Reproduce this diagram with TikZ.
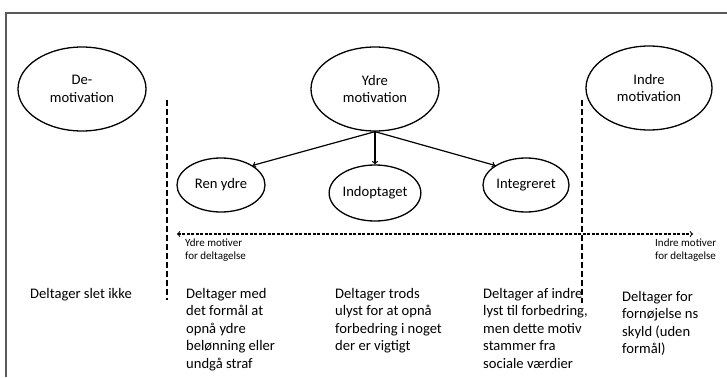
\documentclass[tikz,border=0pt]{standalone}
\usepackage{fontspec}
\setmainfont{Carlito}
\usetikzlibrary{shapes.geometric}

\begin{document}
\begin{tikzpicture}[x=1pt, y=-1pt,
	every node/.style={font=\fontsize{14.6}{17.5}\selectfont},
	oval/.style={shape=ellipse, draw, line width=1.3pt, inner sep=0pt, align=center},
	desc/.style={anchor=north west, inner sep=0pt, align=left},
	small/.style={desc, font=\fontsize{11}{12.5}\selectfont},
	border/.style={dash pattern=on 6pt off 3pt, line width=1.1pt}]
	\useasboundingbox (0,0) rectangle (727,377);
	\draw[black!65, line width=2pt] (6,377) -- (6,13) -- (727,13);
	% the three main motivation types
	\node[oval, minimum width=128pt, minimum height=84pt] (demot) at (82,89) {De-\\motivation};
	\node[oval, minimum width=128pt, minimum height=84pt] (ydre) at (375,89) {Ydre\\motivation};
	\node[oval, minimum width=126pt, minimum height=84pt] (indre) at (649,88) {Indre\\motivation};
	% subtypes of ydre motivation
	\node[oval, minimum width=88pt, minimum height=54pt] (ren) at (221,185) {Ren ydre};
	\node[oval, minimum width=90pt, minimum height=56pt] (indop) at (375,193) {Indoptaget};
	\node[oval, minimum width=86pt, minimum height=54pt] (integ) at (526,185) {Integreret};
	\draw[->, line width=1.2pt] (ydre.south) -- (ren.north east);
	\draw[->, line width=1.2pt] (ydre.south) -- (indop.north);
	\draw[->, line width=1.2pt] (ydre.south) -- (integ.north west);
	% dividers
	\coordinate (ltop) at (167,100);
	\coordinate (lbot) at (167,300);
	\coordinate (rtop) at (582,100);
	\coordinate (rbot) at (582,303);
	\draw[border] (ltop) -- (lbot);
	\draw[border] (rtop) -- (rbot);
	% scale of motives
	\coordinate (aleft) at (177,234);
	\coordinate (aright) at (693,234);
	\draw[<->, dash pattern=on 3pt off 1.5pt, line width=1.1pt] (aleft) -- (aright);
	\node[small] (ydremot) at (185,239) {Ydre motiver\\for deltagelse};
	\node[small] (indremot) at (655,239) {Indre motiver\\for deltagelse};
	% descriptions
	\node[desc] (txtde) at (30,288) {Deltager slet ikke};
	\node[desc] (txtren) at (186,288) {Deltager med\\det formål at\\opnå ydre\\belønning eller\\undgå straf};
	\node[desc] (txtindop) at (335,288) {Deltager trods\\ulyst for at opnå\\forbedring i noget\\der er vigtigt};
	\node[desc] (txtinteg) at (483,288) {Deltager af indre\\lyst til forbedring,\\men dette motiv\\stammer fra\\sociale værdier};
	\node[desc] (txtindre) at (622,291) {Deltager for\\fornøjelse ns\\skyld (uden\\formål)};
\end{tikzpicture}
\end{document}
